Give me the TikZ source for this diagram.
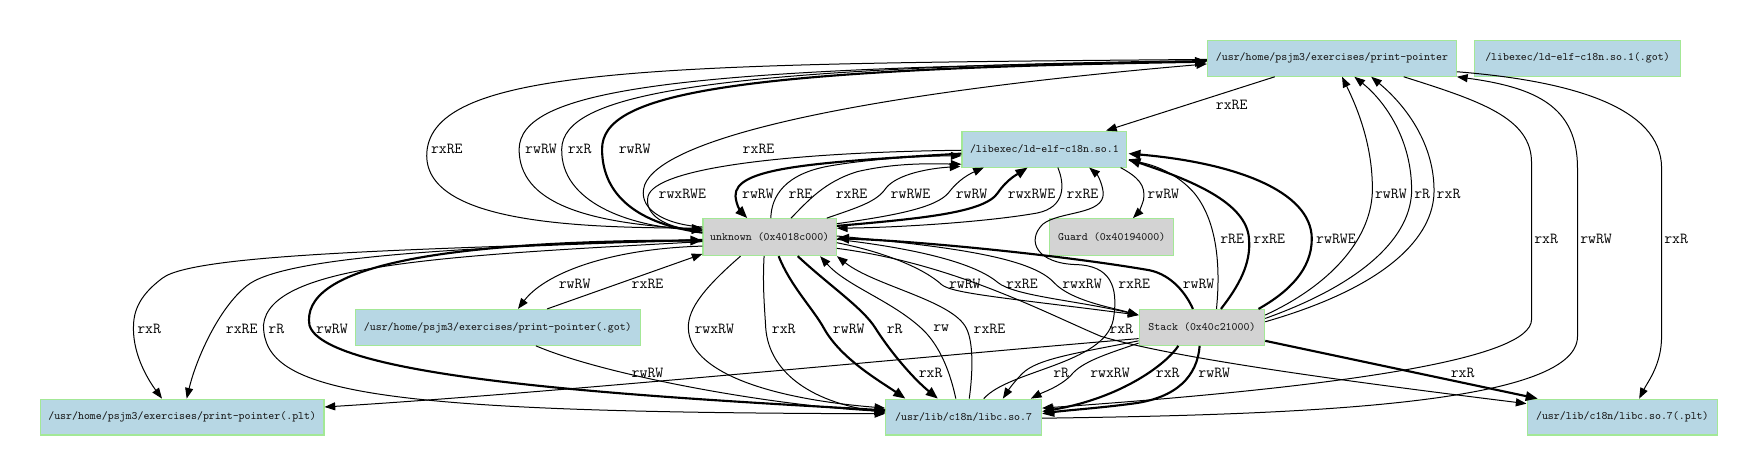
\documentclass[tikz,border=0pt]{standalone}
\usepackage{fontspec}
\usetikzlibrary{arrows.meta,calc}
\definecolor{nblue}{RGB}{183,215,228}
\definecolor{ngray}{RGB}{211,211,211}
\definecolor{nborder}{RGB}{163,232,150}
\begin{document}
\begin{tikzpicture}[x=0.8409pt,y=-0.8409pt,
 nbox/.style={draw=nborder, line width=0.8pt, inner sep=0pt, text=black!90, font={\ttfamily\fontsize{8.5}{10}\selectfont}},
 bluebox/.style={nbox, fill=nblue},
 graybox/.style={nbox, fill=ngray},
 sz/.style 2 args={minimum width={#1*0.8409pt}, minimum height={#2*0.8409pt}},
 conn/.style={line width=0.75pt, -{Triangle[length=8pt,width=6pt]}},
 thickconn/.style={line width=1.6pt, -{Triangle[length=9pt,width=7pt]}},
 lab/.style={anchor=west, inner sep=0pt, font={\ttfamily\fontsize{11.5}{13}\selectfont}},
]
\fill[white] (0,0) rectangle (1568,424);
\useasboundingbox (0,0) rectangle (1568,424);

% nodes
\node[bluebox, sz={222}{32}] (pp) at (1188,52) {/usr/home/psjm3/exercises/print-pointer};
\node[bluebox, sz={184}{32}] (got) at (1407,52) {/libexec/ld-elf-c18n.so.1(.got)};
\node[bluebox, sz={147}{32}] (ld) at (931.5,133) {/libexec/ld-elf-c18n.so.1};
\node[graybox, sz={119}{33}] (unk) at (686.5,211.5) {unknown (0x4018c000)};
\node[graybox, sz={111}{33}] (guard) at (991.5,211.5) {Guard (0x40194000)};
\node[bluebox, sz={254}{32}] (ppgot) at (444,292) {/usr/home/psjm3/exercises/print-pointer(.got)};
\node[graybox, sz={112}{32}] (stack) at (1072,292) {Stack (0x40c21000)};
\node[bluebox, sz={253}{32}] (ppplt) at (162.5,372) {/usr/home/psjm3/exercises/print-pointer(.plt)};
\node[bluebox, sz={139}{32}] (libc) at (859.5,372) {/usr/lib/c18n/libc.so.7};
\node[bluebox, sz={170}{32}] (libcplt) at (1447,372) {/usr/lib/c18n/libc.so.7(.plt)};

% unknown <-> print-pointer loops
\draw[conn] ($(pp.west)+(0,1)$) .. controls (600,57) and (392,58) .. (381,133) .. controls (372,200) and (520,203) .. ($(unk.west)+(0,-8)$) node[lab] at (384,133) {rxRE};
\draw[conn] ($(unk.west)+(0,-7)$) .. controls (520,200) and (463,180) .. (463,133) .. controls (464,80) and (600,60) .. ($(pp.west)+(0,3)$) node[lab] at (468,133) {rwRW};
\draw[conn] ($(pp.west)+(0,2)$) .. controls (620,60) and (502,85) .. (501,133) .. controls (500,180) and (560,202) .. ($(unk.west)+(0,-6)$) node[lab] at (506,133) {rxR};
\draw[thickconn] ($(unk.west)+(0,-4)$) .. controls (570,200) and (537,175) .. (537,133) .. controls (537,85) and (640,62) .. ($(pp.west)+(0,3)$) node[lab] at (551,133) {rwRW};
\draw[conn] ($(unk.west)+(0,-9)$) .. controls (590,200) and (568,185) .. (575,165) .. controls (590,125) and (750,85) .. ($(pp.west)+(0,5)$) node[lab] at (662,133) {rxRE};

% unknown <-> ld
\draw[conn] ($(ld.west)+(0,1)$) .. controls (700,136) and (585,150) .. (578,175) .. controls (574,192) and (595,203) .. ($(unk.west)+(0,-6)$) node[lab] at (587,173) {rwxRWE};
\draw[thickconn] ($(ld.west)+(0,4)$) .. controls (720,145) and (655,150) .. (656,175) .. controls (657,185) and (662,190) .. ($(unk.north)+(-20,0)$) node[lab] at (661,173) {rwRW};
\draw[conn] ($(unk.north)+(1,0)$) .. controls (688,175) and (700,155) .. (740,148) .. controls (780,141) and (830,139) .. ($(ld.west)+(0,6)$) node[lab] at (703,173) {rRE};
\draw[conn] ($(unk.north)+(19,0)$) .. controls (720,180) and (735,162) .. (765,153) .. controls (800,145) and (830,146) .. ($(ld.south west)+(0,-3)$) node[lab] at (745,173) {rxRE};
\draw[conn] ($(unk.north east)+(-9,0)$) .. controls (765,185) and (782,180) .. (790,168) .. controls (800,155) and (830,150) .. ($(ld.south west)+(-1,-1)$) node[lab] at (794,173) {rwRWE};
\draw[conn] ($(unk.east)+(0,-12)$) .. controls (800,192) and (835,185) .. (846,172) .. controls (855,160) and (865,155) .. ($(ld.south west)+(20,0)$) node[lab] at (852,173) {rwRW};
\draw[thickconn] ($(unk.east)+(0,-10)$) .. controls (820,195) and (878,190) .. (890,172) .. controls (898,160) and (908,155) .. ($(ld.south)+(-15,0)$) node[lab] at (898,173) {rwxRWE};
\draw[conn] ($(ld.south)+(12,0)$) .. controls (950,165) and (950,185) .. (925,190) .. controls (880,198) and (800,203) .. ($(unk.east)+(0,-8)$) node[lab] at (951,173) {rxRE};

% print-pointer -> ld, ld -> guard
\draw[conn] ($(pp.south)+(-51,0)$) -- ($(ld.north)+(55,0)$) node[lab] at (1084,94) {rxRE};
\draw[conn] ($(ld.south east)+(-6,0)$) .. controls (1015,158) and (1022,165) .. (1020,178) .. controls (1018,185) and (1015,190) .. ($(guard.north)+(19,0)$) node[lab] at (1023,173) {rwRW};

% libc -> ld (wavy)
\draw[conn] ($(libc.north)+(18,0)$) .. controls (900,330) and (985,325) .. (993,285) .. controls (998,255) and (990,237) .. (960,236) .. controls (925,235) and (915,215) .. (930,200) .. controls (945,188) and (985,192) .. (984,172) .. controls (983,162) and (978,155) .. ($(ld.south)+(40,0)$) node[lab] at (997,253) {rxRE};

% stack <-> unknown
\draw[thickconn] ($(stack.north)+(-8,0)$) .. controls (1058,262) and (1045,245) .. (1025,241) .. controls (950,228) and (820,215) .. ($(unk.east)+(0,1)$) node[lab] at (1054,253) {rwRW};
\draw[conn] ($(unk.east)+(0,5)$) .. controls (790,225) and (825,240) .. (840,254) .. controls (850,262) and (900,266) .. ($(stack.west)+(0,-11)$) node[lab] at (846,253) {rwRW};
\draw[conn] ($(unk.east)+(0,2)$) .. controls (820,222) and (870,235) .. (890,252) .. controls (905,264) and (960,268) .. ($(stack.west)+(0,-11)$) node[lab] at (897,253) {rxRE};
\draw[conn] ($(unk.east)+(0,-1)$) .. controls (850,220) and (920,230) .. (940,252) .. controls (955,268) and (990,274) .. ($(stack.west)+(0,-11)$) node[lab] at (947,253) {rwxRW};

% stack -> ld
\draw[conn] ($(stack.north)+(13,0)$) .. controls (1088,245) and (1088,200) .. (1065,172) .. controls (1050,155) and (1030,147) .. ($(ld.east)+(1,10)$) node[lab] at (1088,213) {rRE};
\draw[thickconn] ($(stack.north)+(17,0)$) .. controls (1105,255) and (1116,235) .. (1114,213) .. controls (1112,180) and (1060,160) .. ($(ld.east)+(1,9)$) node[lab] at (1117,213) {rxRE};
\draw[thickconn] ($(stack.north east)+(-6,0)$) .. controls (1150,260) and (1170,240) .. (1170,213) .. controls (1170,170) and (1100,145) .. ($(ld.east)+(1,4)$) node[lab] at (1173,213) {rwRWE};

% stack -> print-pointer
\draw[conn] ($(stack.east)+(0,-11)$) .. controls (1185,255) and (1222,215) .. (1224,172) .. controls (1225,130) and (1210,95) .. ($(pp.south)+(9,0)$) node[lab] at (1226,173) {rwRW};
\draw[conn] ($(stack.east)+(0,-8)$) .. controls (1210,255) and (1257,215) .. (1259,172) .. controls (1260,125) and (1235,90) .. ($(pp.south)+(20,0)$) node[lab] at (1261,173) {rR};
\draw[conn] ($(stack.east)+(0,-5)$) .. controls (1240,255) and (1278,210) .. (1279,172) .. controls (1280,130) and (1255,95) .. ($(pp.south)+(35,0)$) node[lab] at (1281,173) {rxR};

% right side long edges
\draw[conn] ($(pp.south)+(64,0)$) .. controls (1320,90) and (1366,105) .. (1366,145) -- (1366,285) .. controls (1366,320) and (1200,345) .. ($(libc.east)+(0,-8)$) node[lab] at (1368,213) {rxR};
\draw[conn] ($(libc.east)+(0,1)$) .. controls (1150,370) and (1407,362) .. (1407,300) -- (1407,150) .. controls (1407,95) and (1370,78) .. (pp.south east) node[lab] at (1409,213) {rwRW};
\draw[conn] ($(pp.east)+(0,12)$) .. controls (1400,72) and (1482,95) .. (1482,150) -- (1482,300) .. controls (1482,325) and (1470,340) .. ($(libcplt.north)+(15,0)$) node[lab] at (1484,213) {rxR};

% to libc(.plt)
\draw[thickconn] ($(stack.east)+(0,12)$) -- ($(libcplt.north west)+(10,0)$) node[lab] at (1293,333) {rxR};
\draw[conn] ($(unk.east)+(0,10)$) .. controls (850,235) and (930,278) .. (982,300) .. controls (1050,320) and (1200,340) .. ($(libcplt.west)+(0,-12)$) node[lab] at (989,293) {rxR};

% stack -> print-pointer(.plt)
\draw[conn] ($(stack.west)+(0,10)$) .. controls (800,320) and (500,350) .. ($(ppplt.east)+(0,-9)$) node[lab] at (819,333) {rxR};

% stack -> libc
\draw[conn] ($(stack.west)+(0,12)$) .. controls (960,315) and (925,320) .. (912,333) .. controls (905,340) and (900,347) .. ($(libc.north)+(35,0)$) node[lab] at (939,333) {rR};
\draw[conn] ($(stack.west)+(0,14)$) .. controls (990,315) and (965,322) .. (955,335) .. controls (945,345) and (930,350) .. ($(libc.north east)+(-10,0)$) node[lab] at (972,333) {rwxRW};
\draw[thickconn] ($(stack.south)+(-21,0)$) .. controls (1040,325) and (1000,355) .. ($(libc.east)+(0,-5)$) node[lab] at (1030,333) {rxR};
\draw[thickconn] ($(stack.south)+(-2,0)$) .. controls (1068,335) and (1050,355) .. (1010,360) .. controls (980,364) and (950,366) .. ($(libc.east)+(0,-3)$) node[lab] at (1068,333) {rwRW};

% print-pointer(.got)
\draw[conn] ($(ppgot.north)+(44,0)$) -- ($(unk.west)+(0,15)$) node[lab] at (563,253) {rxRE};
\draw[conn] ($(unk.west)+(0,8)$) .. controls (540,222) and (485,245) .. ($(ppgot.north)+(18,0)$) node[lab] at (498,253) {rwRW};
\draw[conn] ($(ppgot.south)+(34,0)$) .. controls (540,335) and (690,362) .. ($(libc.west)+(0,-5)$) node[lab] at (563,333) {rwRW};

% unknown -> print-pointer(.plt)
\draw[conn] ($(unk.west)+(0,2)$) .. controls (400,222) and (175,225) .. (145,248) .. controls (122,265) and (119,280) .. (119,293) .. controls (119,318) and (133,340) .. ($(ppplt.north)+(-18,0)$) node[lab] at (122,293) {rxR};
\draw[conn] ($(unk.west)+(0,3)$) .. controls (400,220) and (250,230) .. (220,255) .. controls (195,275) and (175,320) .. ($(ppplt.north)+(4,0)$) node[lab] at (201,293) {rxRE};

% unknown <-> libc loops on the left
\draw[conn] ($(unk.west)+(0,4)$) .. controls (400,228) and (240,235) .. (235,290) .. controls (235,350) and (330,368) .. ($(libc.west)+(0,-3)$) node[lab] at (239,293) {rR};
\draw[thickconn] ($(libc.west)+(0,-6)$) .. controls (600,355) and (290,340) .. (276,290) .. controls (268,240) and (380,215) .. ($(unk.west)+(0,3)$) node[lab] at (281,293) {rwRW};

% unknown -> libc (below)
\draw[conn] ($(unk.south)+(-26,0)$) .. controls (630,255) and (613,275) .. (614,293) .. controls (615,330) and (680,355) .. ($(libc.west)+(0,-8)$) node[lab] at (619,293) {rwxRW};
\draw[conn] ($(unk.south)+(-5,0)$) .. controls (680,255) and (682,275) .. (683,293) .. controls (686,330) and (720,358) .. ($(libc.west)+(0,-4)$) node[lab] at (688,293) {rxR};
\draw[thickconn] ($(unk.south)+(8,0)$) .. controls (705,255) and (725,275) .. (735,293) .. controls (750,320) and (785,340) .. ($(libc.north west)+(18,0)$) node[lab] at (742,293) {rwRW};
\draw[thickconn] ($(unk.south)+(25,0)$) .. controls (740,255) and (770,275) .. (781,293) .. controls (795,315) and (815,338) .. ($(libc.north)+(-23,0)$) node[lab] at (790,293) {rR};

% libc -> unknown
\draw[conn] ($(libc.north)+(-7,0)$) .. controls (846,325) and (835,305) .. (822,293) .. controls (795,268) and (755,255) .. ($(unk.south east)+(-15,0)$) node[lab] at (832,293) {rw};
\draw[conn] ($(libc.north)+(5,0)$) .. controls (868,330) and (868,305) .. (862,293) .. controls (850,268) and (780,255) .. (unk.south east) node[lab] at (868,293) {rxRE};
\end{tikzpicture}
\end{document}
